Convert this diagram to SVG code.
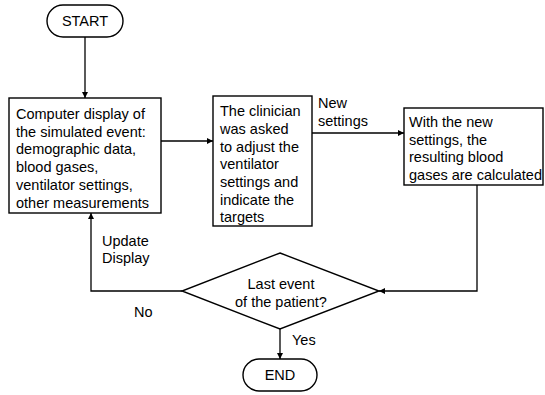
<svg xmlns="http://www.w3.org/2000/svg" width="545" height="395" viewBox="0 0 545 395">
<style>
  .shape { fill: #ffffff; stroke: #000000; stroke-width: 1.4; }
  .line { fill: none; stroke: #000000; stroke-width: 1.3; }
  text { font-family: "Liberation Sans", Arial, sans-serif; font-size: 14.5px; fill: #000000; }
  .c { text-anchor: middle; }
</style>
<defs>
  <marker id="arrow" viewBox="0 0 10 10" refX="10" refY="5" markerWidth="6" markerHeight="6" markerUnits="userSpaceOnUse" orient="auto">
    <path d="M0,0 L10,5 L0,10 z" fill="#000000"/>
  </marker>
</defs>
<rect width="545" height="395" fill="#ffffff"/>
<g id="connectors">
  <path class="line" d="M85,37 L85,98" marker-end="url(#arrow)"/>
  <path class="line" d="M161,141 L213,141" marker-end="url(#arrow)"/>
  <path class="line" d="M312,133 L404,133" marker-end="url(#arrow)"/>
  <path class="line" d="M477,185 L477,291 L379,291" marker-end="url(#arrow)"/>
  <path class="line" d="M182,291 L91,291 L91,213" marker-end="url(#arrow)"/>
  <path class="line" d="M280,329 L280,359" marker-end="url(#arrow)"/>
  <text x="318" y="108">New</text>
  <text x="318" y="126">settings</text>
  <text x="102" y="246">Update</text>
  <text x="102" y="263">Display</text>
  <text x="134" y="317">No</text>
  <text x="292" y="345">Yes</text>
</g>
<g id="start">
  <rect class="shape" x="47" y="5" width="76" height="32" rx="16" ry="16"/>
  <text class="c" x="85" y="26">START</text>
</g>
<g id="display">
  <rect class="shape" x="9" y="98" width="152" height="115"/>
  <text x="16" y="119">Computer display of</text>
  <text x="16" y="137">the simulated event:</text>
  <text x="16" y="154">demographic data,</text>
  <text x="16" y="172">blood gases,</text>
  <text x="16" y="190">ventilator settings,</text>
  <text x="16" y="208">other measurements</text>
</g>
<g id="clinician">
  <rect class="shape" x="213" y="96" width="99" height="130"/>
  <text x="220" y="116">The clinician</text>
  <text x="220" y="134">was asked</text>
  <text x="220" y="152">to adjust the</text>
  <text x="220" y="169">ventilator</text>
  <text x="220" y="187">settings and</text>
  <text x="220" y="205">indicate the</text>
  <text x="220" y="222">targets</text>
</g>
<g id="calculated">
  <rect class="shape" x="404" y="108" width="139" height="77"/>
  <text x="409" y="127">With the new</text>
  <text x="409" y="145">settings, the</text>
  <text x="409" y="162">resulting blood</text>
  <text x="409" y="180">gases are calculated</text>
</g>
<g id="decision">
  <polygon class="shape" points="280,253 379,291 280,329 182,291"/>
  <text class="c" x="281" y="289">Last event</text>
  <text class="c" x="281" y="307">of the patient?</text>
</g>
<g id="end">
  <rect class="shape" x="243" y="359" width="74" height="32" rx="16" ry="16"/>
  <text class="c" x="280" y="380">END</text>
</g>
</svg>
